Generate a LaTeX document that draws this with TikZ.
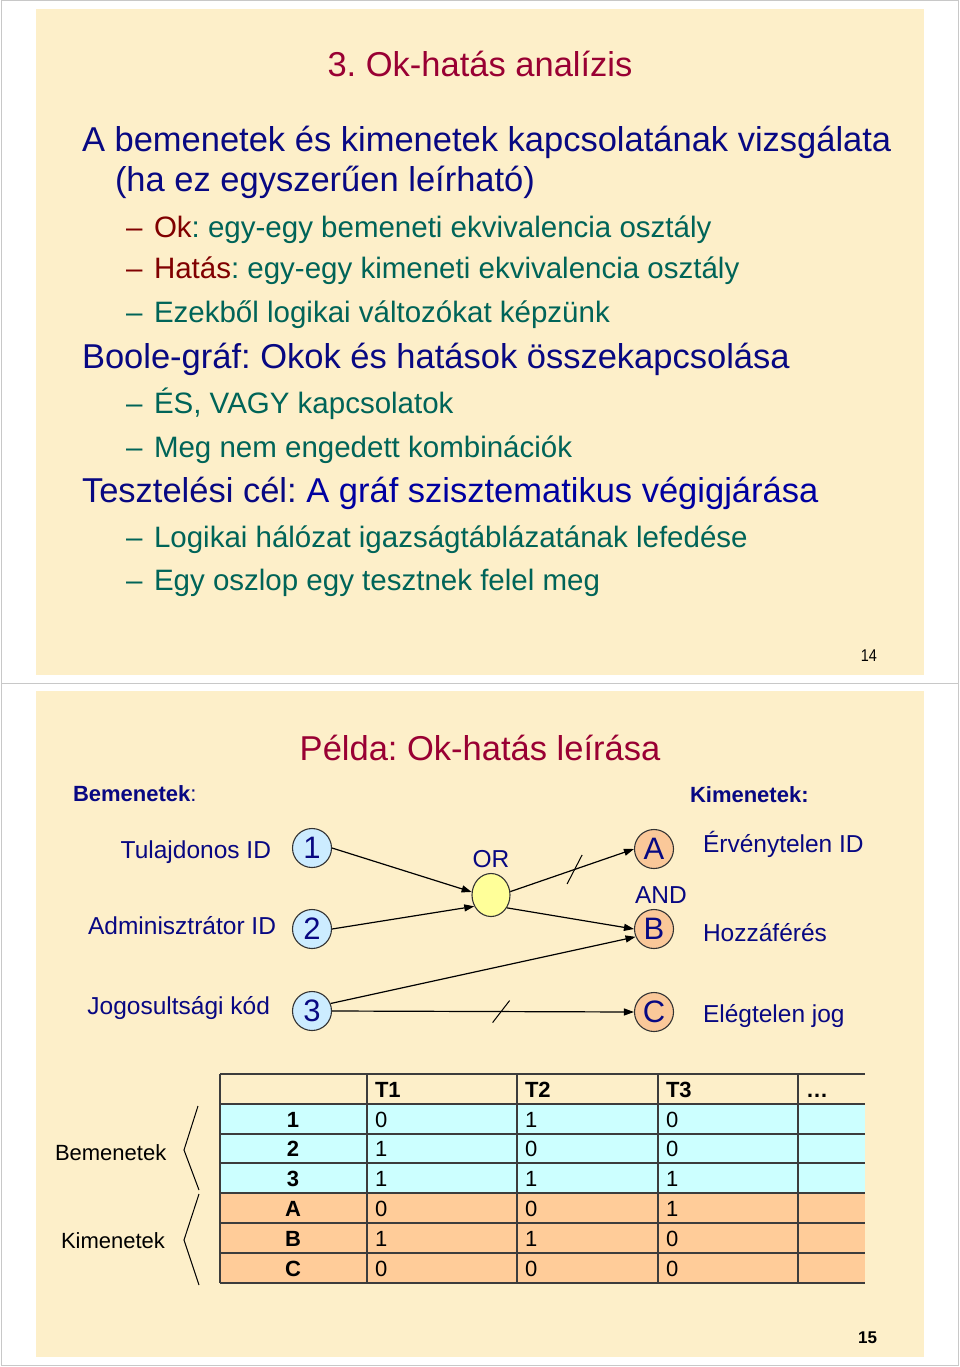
\documentclass[tikz,border=0pt]{standalone}
\usepackage{fontspec}
\setmainfont{Liberation Sans}
\usetikzlibrary{arrows.meta,shapes.geometric}
\frenchspacing
\definecolor{panel}{RGB}{253,239,201}
\definecolor{framegray}{RGB}{200,200,200}
\definecolor{ttlred}{RGB}{153,0,51}
\definecolor{navy}{RGB}{8,8,130}
\definecolor{brightnavy}{RGB}{0,0,160}
\definecolor{teal}{RGB}{0,100,88}
\definecolor{darkred}{RGB}{128,0,0}
\definecolor{infill}{RGB}{204,236,255}
\definecolor{outfill}{RGB}{250,200,153}
\definecolor{orfill}{RGB}{255,255,153}
\definecolor{incell}{RGB}{204,255,255}
\definecolor{outcell}{RGB}{255,204,153}
\definecolor{tlinec}{RGB}{60,60,60}
\newcommand\FsTtl{\fontsize{34.5}{40}\selectfont}
\newcommand\FsMain{\fontsize{34.5}{40}\selectfont}
\newcommand\FsSub{\fontsize{29.5}{34}\selectfont}
\newcommand\FsLbl{\fontsize{24.5}{28}\selectfont}
\newcommand\FsHdr{\fontsize{22}{26}\selectfont}
\newcommand\FsCirc{\fontsize{31}{36}\selectfont}
\newcommand\FsTbl{\fontsize{22}{26}\selectfont}
\begin{document}
\begin{tikzpicture}[x=1pt,y=-1pt,
  txt/.style={inner sep=0pt,outer sep=0pt},
  ttl/.style={txt,font=\FsTtl,text=ttlred,anchor=base},
  mainbul/.style={txt,font=\FsMain,text=navy,anchor=base west},
  subbul/.style={txt,font=\FsSub,text=teal,anchor=base west},
  lbl/.style={txt,font=\FsLbl,text=navy},
  hdr/.style={txt,font=\FsHdr,text=navy,anchor=base west},
  circbase/.style={draw=black!80,line width=1.1pt,inner sep=0pt,font=\FsCirc,text=navy},
  incirc/.style={circbase,circle,fill=infill,minimum size=39pt},
  outcirc/.style={circbase,circle,fill=outfill,minimum size=39pt},
  orcirc/.style={circbase,ellipse,fill=orfill,minimum width=38pt,minimum height=43pt},
  conn/.style={line width=1.2pt,draw=black,-{Triangle[length=10pt,width=7pt]}},
  slashmark/.style={line width=1pt,draw=black},
  tline/.style={line width=1.4pt,draw=tlinec},
  tcell/.style={txt,font=\FsTbl,text=black,anchor=base west},
  tcellb/.style={txt,font=\FsTbl\bfseries,text=black,anchor=base},
  brk/.style={line width=1pt,draw=black},
  blbl/.style={txt,font=\FsHdr,text=black,anchor=base west}]
\useasboundingbox (0,0) rectangle (960,1367);
\fill[white] (0,0) rectangle (960,1367);
% frame and panels
\draw[framegray,line width=1pt] (1,1) rectangle (958,1365);
\draw[framegray,line width=1pt] (1,683) -- (958,683);
\fill[panel] (36,9) rectangle (924,675);
\fill[panel] (36,691) rectangle (924,1357);

% ---------- slide 14 ----------
\node[ttl] (title) at (480,77) {3. Ok-hatás analízis};
\node[mainbul] (m1) at (82,152) {A bemenetek és kimenetek kapcsolatának vizsgálata};
\node[mainbul] (m1b) at (115,192) {(ha ez egyszerűen leírható)};
\node[subbul,text=darkred] (d1) at (126,237) {–};
\node[subbul] (s1) at (154,237) {\textcolor{darkred}{Ok}: egy-egy bemeneti ekvivalencia osztály};
\node[subbul,text=darkred] (d2) at (126,278) {–};
\node[subbul] (s2) at (154,278) {\textcolor{darkred}{Hatás}: egy-egy kimeneti ekvivalencia osztály};
\node[subbul] (d3) at (126,322) {–};
\node[subbul] (s3) at (154,322) {Ezekből logikai változókat képzünk};
\node[mainbul] (m2) at (82,368) {Boole-gráf: Okok és hatások összekapcsolása};
\node[subbul] (d4) at (126,413) {–};
\node[subbul] (s4) at (154,413) {ÉS, VAGY kapcsolatok};
\node[subbul] (d5) at (126,457) {–};
\node[subbul] (s5) at (154,457) {Meg nem engedett kombinációk};
\node[mainbul] (m3) at (82,502) {Tesztelési cél: \textcolor{brightnavy}{A gráf szisztematikus végigjárása}};
\node[subbul] (d6) at (126,547) {–};
\node[subbul] (s6) at (154,547) {Logikai hálózat igazságtáblázatának lefedése};
\node[subbul] (d7) at (126,590) {–};
\node[subbul] (s7) at (154,590) {Egy oszlop egy tesztnek felel meg};
\node[txt,font=\fontsize{17}{20}\selectfont,xscale=0.85,anchor=base east] (p14) at (877,661) {14};

% ---------- slide 15 ----------
\node[ttl] (title2) at (480,760) {Példa: Ok-hatás leírása};
\node[hdr] (inhdr) at (73,801) {\textbf{Bemenetek}:};
\node[hdr] (outhdr) at (690,802) {\textbf{Kimenetek:}};

\node[lbl,anchor=base east] (l1) at (271,858) {Tulajdonos ID};
\node[lbl,anchor=base east] (l2) at (276,934) {Adminisztrátor ID};
\node[lbl,anchor=base east] (l3) at (270,1014) {Jogosultsági kód};
\node[lbl,anchor=base west] (r1) at (703,852) {Érvénytelen ID};
\node[lbl,anchor=base west] (r2) at (703,941) {Hozzáférés};
\node[lbl,anchor=base west] (r3) at (703,1022) {Elégtelen jog};

\node[incirc] (n1) at (312,848) {1};
\node[incirc] (n2) at (312,929) {2};
\node[incirc] (n3) at (312,1011) {3};
\node[orcirc] (or) at (491,895) {};
\node[outcirc] (A) at (654,849) {A};
\node[outcirc] (B) at (654,929) {B};
\node[outcirc] (C) at (654,1012) {C};

\node[lbl,anchor=base] (orlbl) at (491,867) {OR};
\node[lbl,anchor=base] (andlbl) at (661,903) {AND};

\draw[conn] (n1.east) -- (or.171);
\draw[conn] (n2.east) -- (or.214);
\draw[conn] (or.10) -- coordinate[pos=0.52] (k1) (A.west);
\draw[conn] (or.321) -- (B.west);
\draw[conn] (n3.22) -- (B.203);
\draw[conn] (n3.east) -- coordinate[pos=0.56] (k2) (C.west);
\draw[slashmark] ([shift={(-7.5,14.5)}]k1) -- ([shift={(7.5,-14.5)}]k1);
\draw[slashmark] ([shift={(-8.5,11)}]k2) -- ([shift={(8.5,-11)}]k2);

% table
\fill[incell] (220,1104) rectangle (865,1193);
\fill[outcell] (220,1193) rectangle (865,1283);
\foreach \yy in {1074,1104,1134,1163,1193,1223,1253,1283}
  \draw[tline] (220,\yy) -- (865,\yy);
\foreach \xx in {220,367,517,658,798}
  \draw[tline] (\xx,1074) -- (\xx,1283);
\node[tcell,font=\FsTbl\bfseries] (h1) at (375,1097) {T1};
\node[tcell,font=\FsTbl\bfseries] (h2) at (525,1097) {T2};
\node[tcell,font=\FsTbl\bfseries] (h3) at (666,1097) {T3};
\node[tcell,font=\FsTbl\bfseries] (h4) at (806,1097) {…};
\foreach \lab/\va/\vb/\vc [count=\i from 0] in {1/0/1/0,2/1/0/0,3/1/1/1,A/0/0/1,B/1/1/0,C/0/0/0} {
  \pgfmathsetmacro\yy{1127+29.8*\i}
  \node[tcellb] (rl\i) at (293,\yy) {\lab};
  \node[tcell] (ra\i) at (375,\yy) {\va};
  \node[tcell] (rb\i) at (525,\yy) {\vb};
  \node[tcell] (rc\i) at (666,\yy) {\vc};
}
\draw[brk] (198,1106) -- (184,1150) -- (199,1190);
\draw[brk] (199,1194) -- (184,1240) -- (199,1285);
\node[blbl] (bin) at (55,1160) {Bemenetek};
\node[blbl] (bout) at (61,1248) {Kimenetek};
\node[txt,font=\fontsize{17}{20}\selectfont\bfseries,anchor=base east] (p15) at (877,1343) {15};
\end{tikzpicture}
\end{document}
